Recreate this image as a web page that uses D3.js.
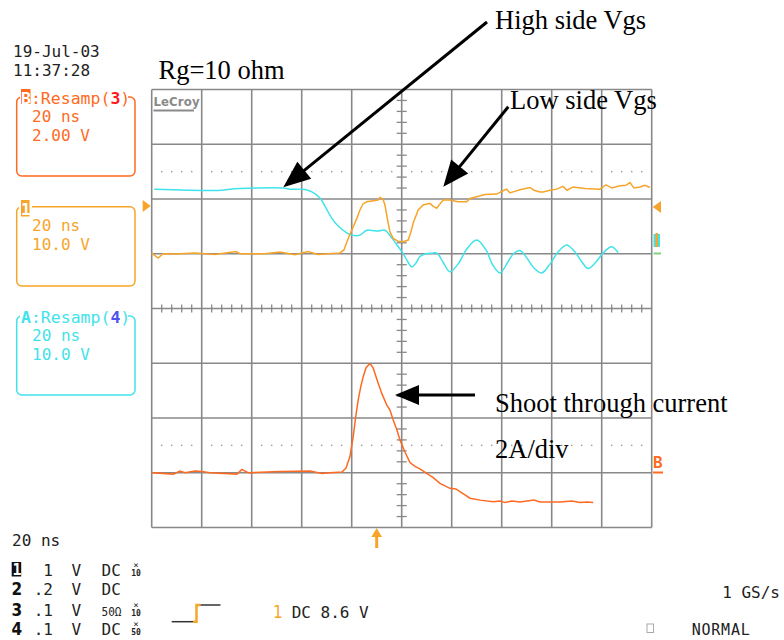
<!DOCTYPE html>
<html><head><meta charset="utf-8">
<script src="https://cdn.jsdelivr.net/npm/d3@7"></script>
<style>body{margin:0;background:#fff}svg{display:block}</style>
</head><body><svg id="c" width="784" height="640"></svg>
<script>
// ---- data ----
// time in ns (20 ns/div), centre of screen = 0
const timeDomain = [-100, 100];
// channel A (high side Vgs), volts, 10 V/div
const highSideT = [-99,-72,-68.7,-47.5,-44.7,-38.7,-35.9,-32.7,-30.3,-28,-25.5,-22,-19.9,-16.7,-14,-11.9,-9.5,-6.7,-4,-1.9,0.5,2.5,4,5.7,7.3,9.7,12,14.1,16.5,19.3,22.5,26.1,30,33.7,36.5,39.3,42.5,44.9,47.3,50.1,52.9,56,59.3,62.5,66,69.3,72.1,74.6,77.7,80.9,84,86.6];
const highSideV = [11.8,11.6,11.8,12.0,11.8,11.75,11.3,10.2,8.4,6.5,5.1,3.8,3.4,3.4,4.3,4.25,4.15,4.3,2.9,1.6,0.1,-1.5,-2.4,-1.7,-0.5,0,0.1,0.1,-1.5,-3.3,-1.9,0.9,2.5,0.7,-2.1,-3.5,-1.5,0.1,0.6,-0.8,-2.6,-3.5,-1.9,0.3,1.6,0.3,-1.5,-2.7,-1.5,0.3,1.3,0.2];
// channel 1 (low side Vgs), volts, 10 V/div
const lowSideT = [-100,-97.4,-95.5,-90.7,-82.7,-74.7,-66.3,-64.7,-54.7,-48.7,-42.7,-37.5,-33.5,-27.9,-24.7,-23.1,-21.4,-19.4,-17.9,-16.7,-15.5,-14,-11.4,-9.5,-8.7,-7.5,-6.7,-5.4,-4.7,-3.4,-1.5,0.6,2.6,3.7,4.6,6.6,8.6,10.1,11.3,12.5,14,15.3,16.6,19.3,22.5,26,27.3,30,33.3,38,40.5,42,43.3,44.6,47.3,51.3,52.9,55.3,56.6,59.3,62,64.5,66.1,68.6,73.3,79.3,81.7,84.1,87.3,89.7,91.3,92.9,95.3,97.3,99.3];
const lowSideV = [0.1,-0.8,0,-0.05,0.15,-0.15,0.4,0,0,0.3,-0.2,0.4,-0.15,0.05,0.15,0.7,2.8,4.9,6.5,8.0,9.1,9.5,9.7,9.8,10.3,10.0,8.9,5.6,4.0,2.8,2.3,2.2,2.5,4.0,5.6,8.0,8.9,9.1,9.2,8.7,8.3,9.1,9.8,9.8,9.5,9.5,10.1,10.4,10.8,10.9,11.5,11.8,11.1,11.3,11.7,12.1,11.6,11.3,11.3,11.6,11.8,12.3,11.6,12.2,11.9,11.8,12.6,12.0,12.4,12.5,13.0,12.0,12.2,12.5,12.1];
// channel B (shoot through current), amps, 2 A/div
const currentT = [-100,-91.3,-88.7,-86.7,-82.7,-79.9,-76.7,-65.9,-63.9,-61.5,-48.7,-36.7,-31.9,-28.7,-23.9,-22.3,-20.7,-19.4,-18.3,-17.4,-16.3,-15.4,-14.3,-13,-12.3,-11.4,-9.4,-7.9,-6,-4.7,-3.4,-1.9,-0.7,1.3,3.3,5.3,7.3,10,12.5,15.3,19.3,21.7,23.3,25.3,27.3,31.3,36.6,39.3,41.3,44.1,47.3,52.9,55.3,63.3,68.1,71.3,74.1,76.6];
const currentA = [0,-0.05,0.06,0,0.06,0.05,0,-0.05,0.12,0,0.05,0.06,-0.03,0,0.03,0.17,0.59,1.32,2.11,2.66,3.17,3.51,3.83,3.97,3.95,3.82,3.27,2.88,2.48,2.29,1.93,1.56,1.2,0.76,0.37,0.23,0.14,-0.02,-0.17,-0.39,-0.57,-0.59,-0.69,-0.81,-0.93,-1.0,-1.06,-1.03,-1.09,-1.03,-1.07,-1.0,-1.07,-1.07,-1.03,-1.09,-1.07,-1.09];

const channelRows = [
  {id:"1", val:"1", unit:"V", cpl:"DC", probe:"10"},
  {id:"2", val:".2", unit:"V", cpl:"DC", probe:""},
  {id:"3", val:".1", unit:"V", cpl:"50\u03A9", probe:"10"},
  {id:"4", val:".1", unit:"V", cpl:"DC", probe:"50"}
];

// ---- layout ----
const svg = d3.select("#c");
const X0 = 151.7, X1 = 651.7, Y0 = 89.5, Y1 = 527.5;
const x = d3.scaleLinear().domain(timeDomain).range([X0, X1]);
const yDiv = d3.scaleLinear().domain([-4, 4]).range([Y1, Y0]);
const divH = (Y1 - Y0) / 8, divW = (X1 - X0) / 10;
const MONO = "'DejaVu Sans Mono', 'Liberation Mono', monospace";
const SERIF = "'Liberation Serif', 'Times New Roman', serif";
const C_CYAN = "#3fe3ea", C_ORANGE = "#f7a52a", C_RED = "#ff6a22", GRID = "#888";

svg.append("rect").attr("width",784).attr("height",640).attr("fill","#fff");

// grid
const g = svg.append("g");
d3.range(0, 11).forEach(i => g.append("line").attr("x1", X0 + i*divW).attr("x2", X0 + i*divW)
  .attr("y1", Y0).attr("y2", Y1).attr("stroke", GRID).attr("stroke-width", 1.6));
d3.range(0, 9).forEach(i => g.append("line").attr("y1", Y0 + i*divH).attr("y2", Y0 + i*divH)
  .attr("x1", X0).attr("x2", X1).attr("stroke", GRID).attr("stroke-width", 1.6));
// centre ticks
const cx = x(0), cy = yDiv(0);
d3.range(0, 41).filter(i => i % 5 !== 0).forEach(i => {
  const yy = Y0 + i*divH/5;
  g.append("line").attr("x1", cx-5).attr("x2", cx+5).attr("y1", yy).attr("y2", yy).attr("stroke", GRID).attr("stroke-width", 1.3);
});
d3.range(0, 51).filter(i => i % 5 !== 0).forEach(i => {
  const xx = X0 + i*divW/5;
  g.append("line").attr("x1", xx).attr("x2", xx).attr("y1", cy-4).attr("y2", cy+4).attr("stroke", GRID).attr("stroke-width", 1.3);
});
// dotted reference lines
[yDiv(2.5), yDiv(-2.5)].forEach(yy => {
  d3.range(0, 51).filter(i => i % 5 !== 0).forEach(i => {
    g.append("rect").attr("x", X0 + i*divW/5 - 0.7).attr("y", yy - 0.7).attr("width", 1.4).attr("height", 1.4).attr("fill", "#999");
  });
});

// LeCroy logo
svg.append("text").attr("x", 153.5).attr("y", 106).attr("font-family", "'DejaVu Sans Condensed','DejaVu Sans',sans-serif")
  .attr("font-weight", "bold").attr("font-size", 13).attr("fill", "#8a8a8a").attr("textLength", 46).text("LeCroy");
svg.append("line").attr("x1", 153.5).attr("x2", 194).attr("y1", 110.5).attr("y2", 110.5).attr("stroke", "#8a8a8a").attr("stroke-width", 2);

// traces
const line = d3.line().x(d => x(d[0])).y(d => d[1]);
const smooth = d3.line().x(d => x(d[0])).y(d => d[1]).curve(d3.curveCatmullRom);
const ch1Y = v => yDiv(v / 10 + 1);
const chAY = v => yDiv(v / 10 + 1);
const chBY = a => yDiv(a / 2 - 3);
svg.append("path").attr("d", smooth(highSideT.map((t,i) => [t, chAY(highSideV[i])])))
  .attr("fill","none").attr("stroke", C_CYAN).attr("stroke-width", 1.5);
svg.append("path").attr("d", line(lowSideT.map((t,i) => [t, ch1Y(lowSideV[i])])))
  .attr("fill","none").attr("stroke", C_ORANGE).attr("stroke-width", 1.5);
svg.append("path").attr("d", line(currentT.map((t,i) => [t, chBY(currentA[i])])))
  .attr("fill","none").attr("stroke", C_RED).attr("stroke-width", 1.5);

// markers
svg.append("path").attr("d", "M142.7,200 L150.7,206 L142.7,212 Z").attr("fill", C_ORANGE);
svg.append("path").attr("d", "M661,201 L652.7,207 L661,213 Z").attr("fill", C_ORANGE);
svg.append("rect").attr("x", 653.5).attr("y", 234).attr("width", 6.5).attr("height", 13).attr("fill", C_CYAN);
svg.append("rect").attr("x", 655.5).attr("y", 233).attr("width", 2.5).attr("height", 14).attr("fill", C_ORANGE);
svg.append("line").attr("x1", 653.5).attr("x2", 661).attr("y1", 253.5).attr("y2", 253.5).attr("stroke", "#7fd27f").attr("stroke-width", 2);
svg.append("text").attr("x", 653).attr("y", 467.5).attr("font-family", MONO).attr("font-weight", "bold").attr("font-size", 16).attr("fill", C_RED).text("B");
svg.append("line").attr("x1", 653).attr("x2", 663).attr("y1", 472.5).attr("y2", 472.5).attr("stroke", C_RED).attr("stroke-width", 2);
// trigger arrow below grid
svg.append("path").attr("d", "M376.7,528 L382,537 L378.2,537 L378.2,548 L375.2,548 L375.2,537 L371.4,537 Z").attr("fill", C_ORANGE);

// top-left info
const mono = (t, xx, yy, col, extra) => {
  const e = svg.append("text").attr("x", xx).attr("y", yy).attr("font-family", MONO).attr("font-size", 16).attr("fill", col || "#222").text(t);
  if (extra) extra(e);
  return e;
};
mono("19-Jul-03", 13, 57);
mono("11:37:28", 13, 76);

// channel boxes
function box(yTop, yBot, col, line1, line2) {
  svg.append("rect").attr("x", 16.7).attr("y", yTop).attr("width", 118.3).attr("height", yBot - yTop)
    .attr("rx", 5).attr("fill", "none").attr("stroke", col).attr("stroke-width", 1.5);
  mono(line1, 32, yTop + 24.5, col);
  mono(line2, 32, yTop + 43.5, col);
}
box(97, 176, C_RED, "20 ns", "2.00 V");
box(206.7, 286, C_ORANGE, "20 ns", "10.0 V");
box(316, 395, C_CYAN, "20 ns", "10.0 V");
// box labels
svg.append("rect").attr("x", 20).attr("y", 88).attr("width", 108).attr("height", 17).attr("fill", "#fff");
svg.append("rect").attr("x", 21).attr("y", 89).attr("width", 9.5).attr("height", 15).attr("fill", C_RED);
const lb = svg.append("text").attr("x", 21).attr("y", 103.5).attr("font-family", MONO).attr("font-size", 16.5);
lb.append("tspan").attr("fill", "#fff").attr("font-weight", "bold").text("B");
lb.append("tspan").attr("fill", C_RED).text(":Resamp(");
lb.append("tspan").attr("fill", "#ff1a1a").attr("font-weight", "bold").text("3");
lb.append("tspan").attr("fill", C_RED).text(")");
svg.append("rect").attr("x", 19).attr("y", 199).attr("width", 13).attr("height", 18).attr("fill", "#fff");
svg.append("rect").attr("x", 21).attr("y", 200).attr("width", 8.5).attr("height", 16.5).attr("fill", C_ORANGE);
svg.append("text").attr("x", 21).attr("y", 214.5).attr("font-family", MONO).attr("font-weight", "bold").attr("font-size", 16).attr("fill", "#fff").text("1");
svg.append("rect").attr("x", 20).attr("y", 308).attr("width", 108).attr("height", 17).attr("fill", "#fff");
const la = svg.append("text").attr("x", 21).attr("y", 323).attr("font-family", MONO).attr("font-size", 16.5);
la.append("tspan").attr("fill", C_CYAN).attr("font-weight", "bold").text("A");
la.append("tspan").attr("fill", C_CYAN).text(":Resamp(");
la.append("tspan").attr("fill", "#4b55ee").attr("font-weight", "bold").text("4");
la.append("tspan").attr("fill", C_CYAN).text(")");

// bottom info
mono("20 ns", 12, 546);
const rowY = [576, 595, 615.5, 635];
channelRows.forEach((r, i) => {
  const yy = rowY[i];
  if (i === 0) {
    svg.append("rect").attr("x", 11.7).attr("y", yy - 14).attr("width", 9.5).attr("height", 14.5).attr("fill", "#111");
    svg.append("text").attr("x", 12.5).attr("y", yy - 1).attr("font-family", MONO).attr("font-weight", "bold").attr("font-size", 15).attr("fill", "#fff").text(r.id);
  } else {
    svg.append("text").attr("x", 11.5).attr("y", yy).attr("font-family", "'DejaVu Sans Condensed','DejaVu Sans',sans-serif").attr("font-weight", "bold").attr("font-size", 17).attr("fill", "#111").text(r.id);
  }
  mono(r.val, 53, yy, "#222", e => e.attr("text-anchor", "end"));
  mono(r.unit, 71.5, yy);
  mono(r.cpl, 101.5, yy, "#222", e => { if (r.cpl.length > 2) e.attr("font-size", 13).attr("textLength", 20).attr("lengthAdjust", "spacingAndGlyphs"); });
  if (r.probe) {
    svg.append("text").attr("x", 136).attr("y", yy - 8).attr("text-anchor", "middle").attr("font-family", MONO).attr("font-size", 9).attr("fill", "#222").text("\u00D7");
    svg.append("text").attr("x", 136).attr("y", yy).attr("text-anchor", "middle").attr("font-family", MONO).attr("font-weight", "bold").attr("font-size", 8).attr("fill", "#222").text(r.probe);
  }
});
// trigger symbol
svg.append("path").attr("d", "M171.7,621.7 H193").attr("stroke", "#333").attr("stroke-width", 1.5);
svg.append("path").attr("d", "M193,621.7 H196.5 V605 H200.5").attr("stroke", C_ORANGE).attr("stroke-width", 2.5).attr("fill", "none");
svg.append("path").attr("d", "M200.5,605 H220.5").attr("stroke", "#333").attr("stroke-width", 1.5);
svg.append("text").attr("x", 273).attr("y", 618).attr("font-family", "'DejaVu Sans Condensed','DejaVu Sans',sans-serif").attr("font-size", 17).attr("fill", C_ORANGE).text("1");
mono("DC 8.6 V", 291.7, 618);
mono("1 GS/s", 780, 598, "#222", e => e.attr("text-anchor", "end"));
svg.append("rect").attr("x", 647).attr("y", 624).attr("width", 6.5).attr("height", 8.5).attr("fill", "none").attr("stroke", "#aaa").attr("stroke-width", 1);
mono("NORMAL", 691.7, 635, "#222", e => e.attr("font-size", 15).attr("textLength", 58));

// annotations
const serif = (t, xx, yy) => svg.append("text").attr("x", xx).attr("y", yy).attr("font-family", SERIF).attr("font-size", 26.5).attr("fill", "#000").text(t);
serif("Rg=10 ohm", 158.5, 79);
serif("High side Vgs", 495, 29);
serif("Low side Vgs", 510, 109);
serif("Shoot through current", 495, 411.5);
serif("2A/div", 495, 458);

function arrow(x1, y1, x2, y2, len, hw) {
  const dx = x2 - x1, dy = y2 - y1, L = Math.hypot(dx, dy), ux = dx / L, uy = dy / L;
  const bx = x2 - ux * len, by = y2 - uy * len;
  svg.append("line").attr("x1", x1).attr("y1", y1).attr("x2", bx + ux*2).attr("y2", by + uy*2).attr("stroke", "#000").attr("stroke-width", 3);
  svg.append("path").attr("d", `M${x2},${y2} L${bx - uy*hw},${by + ux*hw} L${bx + uy*hw},${by - ux*hw} Z`).attr("fill", "#000");
}
arrow(487, 22, 283.3, 187.3, 27, 11);
arrow(508.3, 106.7, 443.3, 186.7, 26, 11);
arrow(475, 395, 395, 395, 24, 10);
</script></body></html>
